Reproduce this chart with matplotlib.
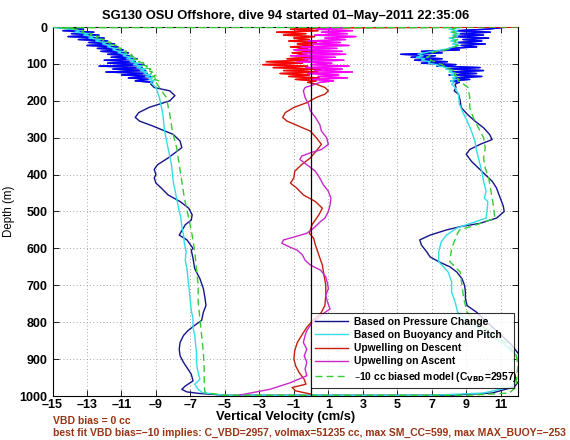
import numpy as np
import matplotlib
matplotlib.use("Agg")
import matplotlib.pyplot as plt
from matplotlib.lines import Line2D

plt.rcParams['font.family'] = ['Liberation Sans', 'DejaVu Sans']

# ---------------- data ----------------
# shared depth grid for the noisy near-surface part (m)
depth_top = [2, 6, 10, 14, 18, 22, 26, 30, 34, 38, 42, 46, 50, 54, 58, 62, 66, 70, 74,
             78, 82, 86, 90, 94, 98, 102, 106, 110, 114, 118, 122, 126, 130, 134, 138,
             142, 146, 150]

# velocity at the surface point (depth 0) that starts each descent / ends each ascent
surface_depth = 0
press_surface = [-15.0, 11.5]
buoy_surface = [-15.0, 8.5]
model_surface = [12.0, -15.0]
upd_surface = 12.0
upa_surface = 1.5

# Pressure change (descent, noisy top)
press_desc_top = [-14.6, -13.2, -14.4, -12.6, -13.9, -12.3, -14.1, -12.0, -13.5, -11.8,
                  -12.9, -11.4, -13.0, -11.2, -12.4, -10.9, -12.2, -10.6, -11.8, -10.4,
                  -11.6, -10.1, -12.0, -10.2, -11.8, -9.7, -12.3, -9.8, -11.5, -9.6,
                  -11.9, -9.5, -11.0, -9.3, -10.6, -9.4, -10.2, -9.2]
press_desc_depth = [155, 164, 173, 186, 200, 218, 232, 245, 255, 268, 291, 309, 327, 341,
                    355, 373, 386, 400, 409, 423, 436, 455, 473, 491, 509, 523, 536, 564,
                    577, 600, 605, 627, 655, 682, 709, 736, 755, 773, 795, 805, 823, 836,
                    855, 873, 891, 909, 927, 941, 959, 973, 982, 989, 993, 998]
press_desc_vel = [-9.3, -9.1, -8.2, -7.9, -8.2, -9.4, -10.0, -10.2, -9.95, -9.2, -8.0,
                  -7.6, -7.5, -7.9, -8.3, -8.9, -9.1, -9.0, -9.1, -9.0, -8.7, -8.3, -7.6,
                  -7.1, -6.9, -6.95, -7.3, -7.65, -7.2, -6.85, -6.95, -6.85, -6.75, -6.45,
                  -6.25, -6.15, -6.1, -6.25, -6.35, -6.65, -7.15, -7.4, -7.6, -7.65, -7.6,
                  -7.4, -7.15, -6.95, -6.85, -7.3, -7.5, -7.2, -6.5, -5.0]
# Pressure change (ascent, listed by increasing depth)
press_asc_top = [11.0, 10.2, 8.4, 10.4, 8.6, 10.0, 8.3, 10.3, 8.8, 9.9, 8.5, 10.1, 8.7, 9.6,
                 8.0, 8.6, 6.4, 7.6, 5.2, 7.2, 5.8, 7.6, 6.0, 7.9, 6.4, 8.4, 7.3, 9.8, 7.9,
                 10.0, 8.2, 9.6, 8.0, 9.9, 8.3, 9.2, 8.1, 8.6]
press_asc_depth = [155, 164, 173, 182, 200, 218, 236, 255, 273, 291, 305, 318, 332, 345,
                   364, 382, 400, 418, 436, 455, 473, 486, 500, 518, 532, 541, 550, 564,
                   577, 591, 609, 623, 636, 650, 664, 682, 700, 718, 736, 755, 773, 800,
                   830, 860, 890, 920, 950, 975, 992, 998]
press_asc_vel = [8.35, 8.4, 8.3, 8.55, 8.65, 8.7, 9.05, 9.5, 10.0, 10.35, 10.5, 9.8, 9.2,
                 9.0, 9.3, 9.7, 10.1, 10.5, 10.75, 10.9, 11.05, 11.15, 11.2, 10.75, 9.8,
                 8.65, 7.85, 6.9, 6.3, 6.4, 6.7, 6.9, 7.4, 8.05, 8.45, 8.75, 8.9, 8.95,
                 8.95, 9.05, 9.6, 10.2, 10.9, 11.6, 12.1, 12.3, 12.2, 11.8, 10.5, 8.0]

# Buoyancy and pitch
buoy_desc_top = [-14.8, -13.9, -13.4, -13.7, -12.9, -13.2, -12.6, -12.9, -12.2, -12.5,
                 -11.9, -12.1, -11.6, -11.8, -11.3, -11.5, -11.0, -11.2, -10.7, -10.9,
                 -10.4, -10.7, -10.2, -10.5, -10.0, -10.3, -9.8, -10.1, -9.6, -9.9, -9.5,
                 -9.7, -9.3, -9.6, -9.2, -9.4, -9.1, -9.3]
buoy_desc_depth = [164, 191, 236, 282, 327, 373, 418, 464, 500, 518, 541, 564, 587, 609,
                   632, 655, 677, 700, 723, 745, 768, 791, 814, 836, 859, 882, 905, 927,
                   955, 968, 982, 991, 998]
buoy_desc_vel = [-9.0, -8.8, -8.6, -8.5, -8.3, -8.1, -8.0, -7.8, -7.65, -7.55, -7.5, -7.4,
                 -7.35, -7.25, -7.3, -7.2, -7.15, -7.1, -7.05, -7.0, -6.95, -6.85, -6.85,
                 -6.75, -6.7, -6.65, -6.65, -6.6, -6.45, -6.75, -6.55, -6.3, -5.0]
buoy_asc_top = [8.6, 8.0, 8.5, 8.1, 8.6, 8.2, 8.5, 8.0, 8.4, 8.1, 8.5, 8.2, 8.6, 8.2, 8.0,
                7.6, 7.0, 6.6, 6.2, 6.5, 6.1, 6.6, 6.4, 6.9, 6.8, 7.3, 7.4, 7.9, 7.8, 8.2,
                8.0, 8.4, 8.1, 8.5, 8.2, 8.4, 8.1, 8.3]
buoy_asc_depth = [155, 164, 182, 209, 236, 255, 282, 309, 336, 364, 391, 418, 445, 464,
                  473, 500, 518, 536, 545, 564, 582, 609, 636, 664, 691, 718, 745, 773,
                  800, 830, 860, 890, 920, 950, 975, 992, 998]
buoy_asc_vel = [8.15, 8.35, 8.55, 8.6, 8.85, 9.05, 9.3, 9.5, 9.6, 9.75, 9.9, 10.0, 10.15,
                10.05, 10.25, 10.2, 10.15, 9.0, 8.45, 7.85, 7.55, 7.4, 7.4, 7.95, 8.15,
                8.15, 8.35, 8.5, 9.2, 10.2, 11.2, 11.9, 12.1, 12.0, 11.6, 10.0, 7.0]

# Model (-10 cc biased)
model_desc_top = [-14.5, -13.6, -13.2, -13.3, -12.7, -12.8, -12.3, -12.5, -12.0, -12.1,
                  -11.6, -11.8, -11.3, -11.4, -11.0, -11.1, -10.7, -10.8, -10.4, -10.5,
                  -10.1, -10.3, -9.9, -10.0, -9.7, -9.9, -9.5, -9.7, -9.3, -9.5, -9.2,
                  -9.3, -9.0, -9.2, -8.9, -9.1, -8.8, -9.0]
model_desc_depth = [164, 191, 236, 282, 327, 373, 418, 464, 518, 564, 609, 655, 700, 745,
                    791, 836, 882, 927, 973, 991, 998]
model_desc_vel = [-8.8, -8.4, -8.2, -8.05, -7.8, -7.65, -7.5, -7.35, -7.1, -6.9, -6.75,
                  -6.65, -6.55, -6.55, -6.45, -6.35, -6.25, -6.2, -6.2, -6.15, -5.0]
model_asc_top = [8.4, 8.2, 8.4, 8.2, 8.5, 8.3, 8.4, 8.2, 8.5, 8.3, 8.4, 8.3, 8.5, 8.3, 8.1,
                 7.8, 7.3, 7.0, 6.8, 6.9, 6.7, 7.0, 6.9, 7.2, 7.3, 7.6, 7.7, 8.0, 8.0, 8.3,
                 8.2, 8.4, 8.3, 8.5, 8.4, 8.6, 8.5, 8.7]
model_asc_depth = [155, 164, 191, 218, 245, 273, 300, 327, 355, 382, 409, 436, 464, 491,
                   518, 536, 550, 564, 600, 636, 664, 700, 736, 773, 800, 830, 860, 890,
                   920, 950, 975, 992, 998]
model_asc_vel = [8.85, 9.1, 9.2, 9.2, 9.4, 9.7, 10.0, 10.1, 10.0, 10.1, 10.3, 10.4, 10.5,
                 10.6, 10.65, 9.6, 8.6, 8.45, 8.15, 8.05, 8.65, 8.75, 8.85, 9.05, 9.6,
                 10.5, 11.4, 11.9, 12.0, 11.9, 11.9, 11.5, 9.0]

# Upwelling on descent
upd_top = [1.0, -1.2, 0.4, -2.0, -0.3, -1.6, 0.2, -1.0, -0.1, -1.3, 0.3, -0.8, 0.1, -1.2,
           -0.2, -0.9, 0.2, -1.1, -0.3, -0.9, 0.1, -1.4, -0.2, -2.6, -0.5, -2.8, -0.2,
           -2.2, 0.6, -1.6, 0.4, -1.8, -0.1, -1.3, 0.5, -0.9, 0.3, -0.2]
upd_depth = [155, 164, 173, 182, 191, 205, 218, 232, 245, 255, 268, 282, 300, 318, 336,
             355, 373, 391, 409, 423, 436, 455, 473, 491, 509, 536, 559, 573, 591, 618,
             645, 673, 700, 727, 755, 777, 795, 814, 832, 855, 877, 900, 918, 936, 955,
             968, 977, 986, 995]
upd_vel = [0.3, 0.8, 1.0, 0.8, 0.3, -0.25, -1.0, -1.5, -1.65, -1.4, -0.75, -0.05, 0.3, 0.6,
           0.3, -0.05, -0.55, -0.95, -1.0, -1.2, -0.85, -0.45, 0.25, 0.65, 0.45, 0.05,
           -0.1, 0.15, 0.25, 0.45, 0.65, 0.75, 0.85, 0.85, 0.8, 0.55, 0.1, -0.25, -0.5,
           -0.8, -0.95, -1.0, -0.9, -0.7, -0.4, -0.3, -1.1, -0.9, 0.0]

# Upwelling on ascent
upa_top = [1.8, 0.3, 2.4, 0.6, 2.1, 0.2, 2.6, 0.8, 2.0, -0.2, 1.7, 0.1, 2.2, -0.6, 1.5,
           -1.0, 1.8, -0.5, 2.0, -1.2, 1.4, -0.4, 1.9, -0.8, 1.2, 0.0, 2.2, -0.3, 1.8, 0.2,
           2.4, -0.2, 1.6, 0.4, 2.1, 0.1, 1.3, 0.5]
upa_depth = [155, 164, 173, 191, 209, 227, 245, 264, 282, 300, 318, 332, 341, 350, 359,
             373, 391, 409, 427, 445, 464, 482, 500, 518, 527, 545, 559, 568, 577, 586,
             595, 605, 618, 632, 645, 659, 677, 695, 709, 727, 745, 764, 777, 791, 805,
             823, 836, 855, 873, 891, 909, 927, 945, 964, 982, 998]
upa_vel = [0.25, -0.35, -0.45, -0.35, -0.15, -0.05, 0.25, 0.5, 0.6, 0.9, 1.0, 0.6, -0.05,
           -0.55, -0.65, -0.25, 0.25, 0.5, 0.7, 1.0, 1.15, 1.1, 1.0, 0.8, 0.55, 0.15, -0.25,
           -0.9, -1.6, -1.7, -1.3, -0.8, -0.5, -0.35, -0.05, 0.55, 0.85, 0.95, 1.0, 0.85,
           0.95, 1.1, 0.7, 0.35, 0.0, -0.25, -0.35, -0.45, -0.25, -0.4, -0.25, -0.35,
           -0.25, -1.2, -2.4, -4.2]

x_ticks = [-15, -13, -11, -9, -7, -5, -3, -1, 1, 3, 5, 7, 9, 11]
y_ticks = [0, 100, 200, 300, 400, 500, 600, 700, 800, 900, 1000]

title = "SG130 OSU Offshore, dive 94 started 01\u2013May\u20132011 22:35:06"
legend_labels = ["Based on Pressure Change", "Based on Buoyancy and Pitch",
                 "Upwelling on Descent", "Upwelling on Ascent",
                 "\u201310 cc biased model (C$_{\\mathbf{VBD}}$=2957)"]
note1 = "VBD bias = 0 cc"
note2 = ("best fit VBD bias=\u221210 implies: C_VBD=2957, volmax=51235 cc, "
         "max SM_CC=599, max MAX_BUOY=\u2212253")

# ---------------- build full profiles ----------------
def profile(surf, desc_top, desc_d, desc_v, asc_top, asc_d, asc_v):
    d = ([surface_depth] + list(depth_top) + list(desc_d) + list(asc_d)[::-1]
         + list(depth_top)[::-1] + [surface_depth])
    v = ([surf[0]] + list(desc_top) + list(desc_v) + list(asc_v)[::-1]
         + list(asc_top)[::-1] + [surf[1]])
    return np.array(v), np.array(d)

# ---------------- plot ----------------
fig = plt.figure(figsize=(5.7, 4.4), dpi=100)
ax = fig.add_axes([52.5/570, 44/440, 465.5/570, 369/440])

navy = '#14148c'
pv, pd = profile(press_surface, press_desc_top, press_desc_depth, press_desc_vel,
                 press_asc_top, press_asc_depth, press_asc_vel)
ax.plot(pv, pd, color=navy, lw=1.0, zorder=2)
ax.plot(press_desc_top, depth_top, color='#0000ff', lw=1.0, zorder=2)
ax.plot(press_asc_top, depth_top, color='#0000ff', lw=1.0, zorder=2)

bv, bd = profile(buoy_surface, buoy_desc_top, buoy_desc_depth, buoy_desc_vel,
                 buoy_asc_top, buoy_asc_depth, buoy_asc_vel)
ax.plot(bv, bd, color='#33dde8', lw=1.0, zorder=3)

ud = np.array([upd_surface] + list(upd_top) + list(upd_vel))
udd = np.array([surface_depth] + list(depth_top) + list(upd_depth))
ax.plot(ud, udd, color='#c41e0e', lw=1.0, zorder=4)
ax.plot([upd_surface] + upd_top, [surface_depth] + depth_top, color='#ff0000', lw=1.0,
        zorder=4)
ua = np.array([upa_surface] + list(upa_top) + list(upa_vel))
uad = np.array([surface_depth] + list(depth_top) + list(upa_depth))
ax.plot(ua, uad, color='#c828c8', lw=1.0, zorder=5)
ax.plot(upa_top, depth_top, color='#ff00ff', lw=1.0, zorder=5)

mv, md = profile(model_surface, model_desc_top, model_desc_depth, model_desc_vel,
                 model_asc_top, model_asc_depth, model_asc_vel)
ax.plot(mv, md, color='#33cc33', lw=1.0, ls=(0, (5, 3)), zorder=6)

ax.axvline(0, color='black', lw=0.9, zorder=7)

ax.set_xlim(-15, 12)
ax.set_ylim(1000, 0)
ax.set_xticks(x_ticks)
ax.set_yticks(y_ticks)
ax.set_xticklabels([str(t).replace('-', '\u2013') for t in x_ticks])
ax.set_yticklabels([str(t) for t in y_ticks])
ax.tick_params(direction='in', length=4, width=0.6, top=True, right=True,
               labelsize=9)
ax.tick_params(axis='x', pad=2.5)
ax.tick_params(axis='y', pad=3.5)
for lab in ax.get_xticklabels() + ax.get_yticklabels():
    lab.set_fontweight('bold')
ax.grid(True, color='#888888', ls=(0, (1, 3)), lw=0.6)
for s in ax.spines.values():
    s.set_linewidth(0.8)

ax.set_title(title, fontsize=9.3, fontweight='bold', pad=6)
ax.set_xlabel("Vertical Velocity (cm/s)", fontsize=9.3, fontweight='bold', labelpad=0)
ax.set_ylabel("Depth (m)", fontsize=8.3, labelpad=3)

handles = [Line2D([], [], color=navy, lw=1.0),
           Line2D([], [], color='#33dde8', lw=1.0),
           Line2D([], [], color='#c41e0e', lw=1.0),
           Line2D([], [], color='#c828c8', lw=1.0),
           Line2D([], [], color='#33cc33', lw=1.0, ls=(0, (5, 3)))]
leg = ax.legend(handles, legend_labels, loc='lower left',
                bbox_to_anchor=(0.555, 0.022, 0.437, 0.203), mode='expand',
                prop={'weight': 'bold', 'size': 7.4}, frameon=True, fancybox=False,
                borderpad=0.4, labelspacing=0.32, handlelength=3.2, handletextpad=0.6,
                borderaxespad=0)
leg.get_frame().set_edgecolor('black')
leg.get_frame().set_linewidth(0.8)
leg.set_zorder(10)

brown = '#993311'
fig.text(53/570, 1 - 421/440, note1, color=brown, fontsize=7.5, fontweight='bold',
         va='center', ha='left')
fig.text(53/570, 1 - 433/440, note2, color=brown, fontsize=7.5, fontweight='bold',
         va='center', ha='left')

fig.savefig("out.png", dpi=100)
